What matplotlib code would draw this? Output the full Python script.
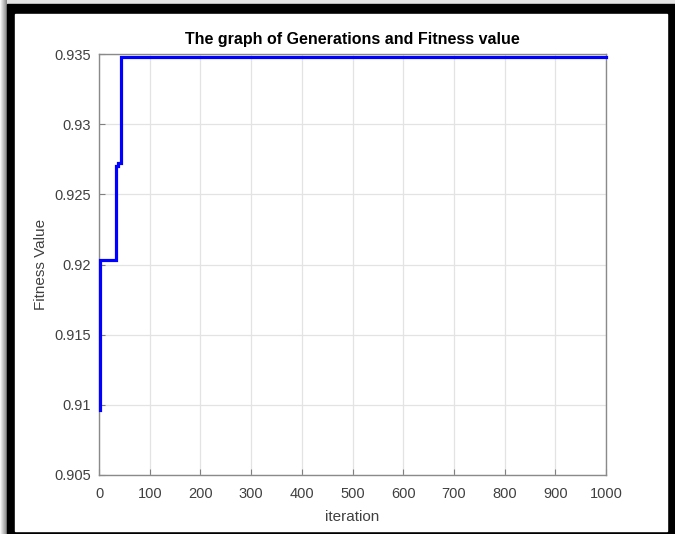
import numpy as np
import matplotlib.pyplot as plt
from matplotlib.patches import Rectangle

plt.rcParams['font.family'] = ['Liberation Sans', 'DejaVu Sans']

# best fitness found so far, listed at the iterations where it changes
change_iter = [1, 2, 34, 37, 43, 1000]
change_fit = [0.9096, 0.9203, 0.9270, 0.9272, 0.9348, 0.9348]

x_ticks = [0, 100, 200, 300, 400, 500, 600, 700, 800, 900, 1000]
y_ticks = [0.905, 0.91, 0.915, 0.92, 0.925, 0.93, 0.935]
y_labels = ['0.905', '0.91', '0.915', '0.92', '0.925', '0.93', '0.935']

W, H = 675, 534
fig = plt.figure(figsize=(W / 100, H / 100), dpi=100)
fig.patch.set_facecolor('#e4e4e4')

# shaded strip on the left edge
shade = np.linspace(0.97, 0.55, 7)
strip = np.tile(shade, (H, 1))
fig.figimage(np.dstack([strip] * 3), xo=0, yo=0, origin='upper', zorder=0)

# black frame with white inside
fig.patches.append(Rectangle((7 / W, 0), 1 - 7 / W, 1 - 4 / H,
                             transform=fig.transFigure, color='black', zorder=1))
fig.patches.append(Rectangle((15 / W, 3 / H), (667 - 15) / W, (531 - 14) / H,
                             transform=fig.transFigure, color='white', zorder=2))

ax = fig.add_axes([99 / W, 1 - 475 / H, (606 - 99) / W, (475 - 54) / H], zorder=3)
ax.plot(change_iter, change_fit, drawstyle='steps-post', color='#0000ff', lw=2.3,
        solid_joinstyle='miter', clip_on=False, zorder=3)

ax.set_xlim(0, 1000)
ax.set_ylim(0.905, 0.935)
ax.set_xticks(x_ticks)
ax.set_yticks(y_ticks)
ax.set_yticklabels(y_labels)
ax.grid(True, color='#e3e3e3', lw=0.9)
ax.set_axisbelow(True)
ax.tick_params(direction='in', length=4, width=0.8, colors='#808080',
               labelcolor='#404040', labelsize=10.5, top=False, right=False)
ax.tick_params(axis='x', pad=9)
ax.tick_params(axis='y', pad=6)
for s in ax.spines.values():
    s.set_color('#8a8a8a')
    s.set_linewidth(1.0)

ax.set_xlabel('iteration', fontsize=11, color='#404040', labelpad=6)
ax.set_ylabel('Fitness Value', fontsize=11, color='#404040', labelpad=4)
ax.set_title('The graph of Generations and Fitness value', fontsize=11.5,
             fontweight='bold', color='black', pad=7)

fig.savefig('out.png', dpi=100, facecolor=fig.get_facecolor())
